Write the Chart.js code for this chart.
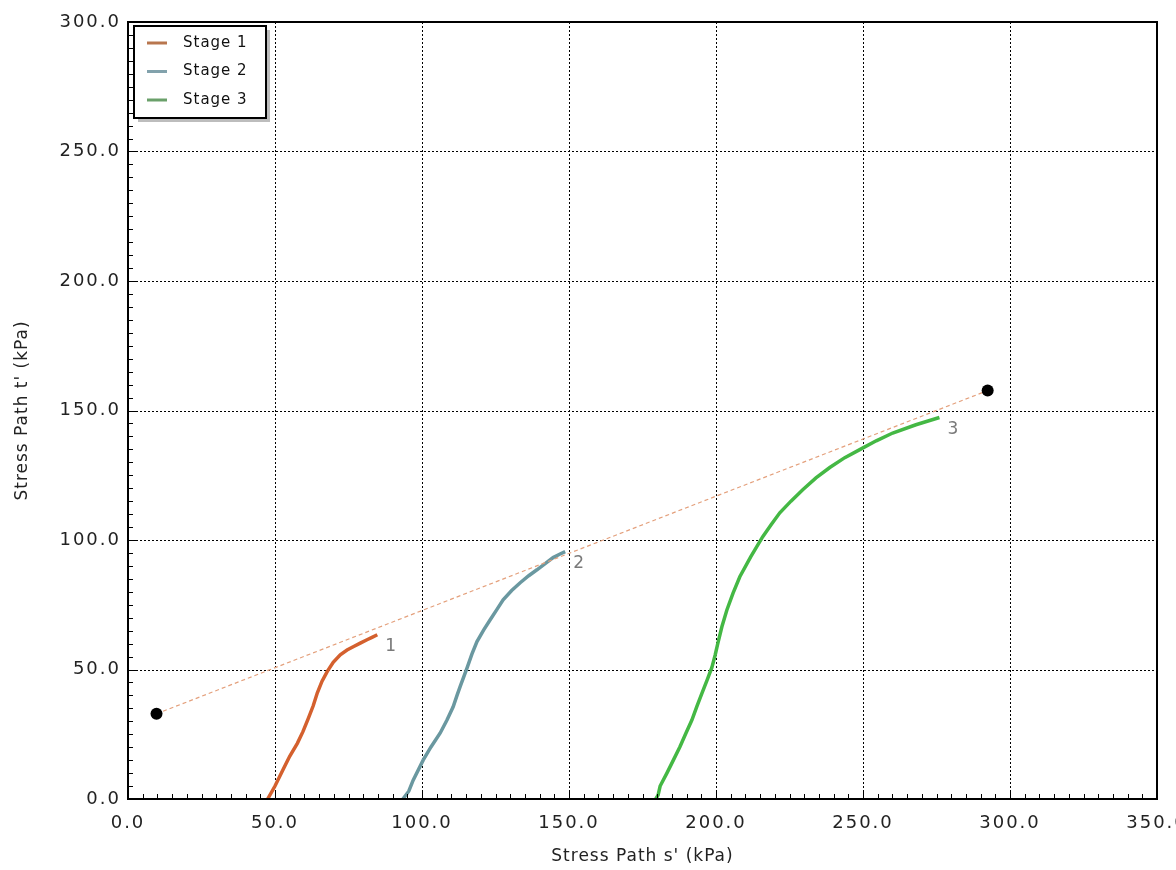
<!DOCTYPE html>
<html>
<head>
<meta charset="utf-8">
<script src="https://cdn.jsdelivr.net/npm/chart.js@4/dist/chart.umd.min.js"></script>
<style>
html,body{margin:0;padding:0;background:#fff;}
#wrap{width:1176px;height:870px;position:relative;}
</style>
</head>
<body>
<div id="wrap"><canvas id="c"></canvas></div>
<script>
// ---- data ----
const seriesNames = ['Stage 1', 'Stage 2', 'Stage 3'];
const stage1S = [47.5, 50.0, 52.8, 55.0, 57.6, 59.5, 61.3, 63.0, 64.4, 66.0, 67.8, 69.8, 72.2, 74.5, 76.6, 79.0, 81.3, 83.0, 84.8];
const stage1T = [0.0, 5.0, 11.5, 16.5, 21.5, 26.0, 31.0, 36.0, 41.0, 45.5, 49.3, 52.8, 55.7, 57.5, 58.8, 60.2, 61.5, 62.4, 63.4];
const stage2S = [93.5, 95.5, 97.0, 100.4, 103.0, 106.2, 108.5, 110.6, 112.0, 113.0, 115.3, 117.0, 118.7, 121.0, 123.2, 125.5, 127.6, 130.5, 133.4, 136.3, 139.1, 142.0, 144.6, 146.8, 148.7];
const stage2T = [0.0, 3.0, 7.3, 15.0, 20.0, 25.5, 30.5, 35.6, 40.3, 43.5, 50.5, 56.0, 60.8, 65.3, 69.2, 73.2, 76.9, 80.5, 83.5, 86.2, 88.5, 91.0, 93.2, 94.5, 95.5];
const stage3S = [179.5, 180.3, 181.0, 183.3, 185.5, 187.7, 189.8, 191.8, 193.5, 195.2, 197.0, 198.6, 199.7, 200.6, 202.0, 203.7, 205.8, 208.1, 211.8, 215.9, 218.8, 221.7, 225.5, 229.5, 234.0, 238.7, 243.8, 248.9, 254.5, 260.1, 268.0, 276.0];
const stage3T = [0.0, 1.5, 5.0, 10.0, 15.0, 20.1, 25.5, 30.5, 35.8, 40.8, 46.0, 50.8, 55.5, 60.0, 66.5, 73.0, 79.5, 85.8, 93.5, 101.3, 106.0, 110.5, 115.0, 119.4, 124.0, 128.0, 131.8, 134.9, 138.3, 141.3, 144.5, 147.3];
const failureS = [9.7, 292.4];
const failureT = [32.9, 157.7];
const stageLabels = ['1', '2', '3'];
const xTicks = [0, 50, 100, 150, 200, 250, 300, 350];
const yTicks = [0, 50, 100, 150, 200, 250, 300];
const xTitle = "Stress Path s' (kPa)";
const yTitle = "Stress Path t' (kPa)";

// ---- styles ----
const stageColors = ['#d4602e', '#6a98a0', '#44b844'];
const legendColors = ['#b8764e', '#82a2ac', '#6aa06a'];

function pts(xs, ys) { return xs.map((x, i) => ({ x: x, y: ys[i] })); }

const stageData = [pts(stage1S, stage1T), pts(stage2S, stage2T), pts(stage3S, stage3T)];

const datasets = [
  {
    label: 'Failure',
    data: pts(failureS, failureT),
    showLine: true,
    borderColor: '#e4a07c',
    borderWidth: 1.2,
    borderDash: [4, 3],
    pointRadius: 6,
    pointBackgroundColor: '#000',
    pointBorderColor: '#000',
    pointBorderWidth: 0,
    order: 0
  }
].concat(stageData.map((d, i) => ({
  label: seriesNames[i],
  data: d,
  showLine: true,
  borderColor: stageColors[i],
  borderWidth: 3.5,
  pointRadius: 0,
  tension: 0,
  order: 1
})));

const drawPlugin = {
  id: 'custom',
  beforeDatasetsDraw(chart) {
    const { ctx, chartArea: a, scales: { x, y } } = chart;
    ctx.save();
    ctx.strokeStyle = '#000';
    ctx.lineWidth = 1;
    ctx.setLineDash([2, 2]);
    xTicks.forEach(v => {
      if (v <= x.min || v >= x.max) return;
      const px = Math.round(x.getPixelForValue(v)) + 0.5;
      ctx.beginPath(); ctx.moveTo(px, a.top); ctx.lineTo(px, a.bottom); ctx.stroke();
    });
    yTicks.forEach(v => {
      if (v <= y.min || v >= y.max) return;
      const py = Math.round(y.getPixelForValue(v)) + 0.5;
      ctx.beginPath(); ctx.moveTo(a.left, py); ctx.lineTo(a.right, py); ctx.stroke();
    });
    ctx.restore();
  },
  afterDraw(chart) {
    const { ctx, chartArea: a, scales: { x, y } } = chart;
    ctx.save();
    // frame
    ctx.setLineDash([]);
    ctx.strokeStyle = '#000';
    ctx.lineWidth = 2;
    ctx.strokeRect(a.left, a.top, a.right - a.left, a.bottom - a.top);
    // minor/major ticks (inside)
    ctx.lineWidth = 1;
    for (let v = x.min; v <= x.max + 0.001; v += 5) {
      const px = Math.round(x.getPixelForValue(v)) + 0.5;
      const len = (v % 50 === 0) ? 9 : 5;
      ctx.beginPath(); ctx.moveTo(px, a.bottom); ctx.lineTo(px, a.bottom - len); ctx.stroke();
    }
    for (let v = y.min; v <= y.max + 0.001; v += 5) {
      const py = Math.round(y.getPixelForValue(v)) + 0.5;
      const len = (v % 50 === 0) ? 9 : 5;
      ctx.beginPath(); ctx.moveTo(a.left, py); ctx.lineTo(a.left + len, py); ctx.stroke();
    }
    // tick labels
    ctx.fillStyle = '#222';
    ctx.font = '18px "DejaVu Sans"';
    ctx.letterSpacing = '2px';
    ctx.textAlign = 'center';
    ctx.textBaseline = 'middle';
    xTicks.forEach(v => ctx.fillText(v.toFixed(1), x.getPixelForValue(v), a.bottom + 24));
    ctx.textAlign = 'right';
    yTicks.forEach(v => ctx.fillText(v.toFixed(1), a.left - 7, y.getPixelForValue(v)));
    // titles
    ctx.font = '17px "DejaVu Sans"';
    ctx.letterSpacing = '1px';
    ctx.textAlign = 'center';
    ctx.fillText(xTitle, (a.left + a.right) / 2, 857);
    ctx.translate(23, (a.top + a.bottom) / 2);
    ctx.rotate(-Math.PI / 2);
    ctx.fillText(yTitle, 0, 0);
    ctx.setTransform(1, 0, 0, 1, 0, 0);
    // stage end labels
    ctx.fillStyle = '#7a7a7a';
    ctx.font = '17px "DejaVu Sans"';
    ctx.letterSpacing = '0px';
    ctx.textAlign = 'left';
    stageData.forEach((d, i) => {
      const last = d[d.length - 1];
      ctx.fillText(stageLabels[i], x.getPixelForValue(last.x) + 8, y.getPixelForValue(last.y) + 12);
    });
    // legend
    const lx = a.left + 6, ly = a.top + 4, lw = 132, lh = 92;
    ctx.fillStyle = '#bdbdbd';
    ctx.fillRect(lx + 4, ly + 4, lw, lh);
    ctx.fillStyle = '#fff';
    ctx.fillRect(lx, ly, lw, lh);
    ctx.strokeStyle = '#000';
    ctx.lineWidth = 2;
    ctx.strokeRect(lx, ly, lw, lh);
    ctx.font = '15px "DejaVu Sans"';
    ctx.letterSpacing = '1px';
    ctx.textBaseline = 'middle';
    seriesNames.forEach((n, i) => {
      const yy = ly + 17 + i * 28.5;
      ctx.strokeStyle = legendColors[i];
      ctx.lineWidth = 3;
      ctx.beginPath(); ctx.moveTo(lx + 13, yy); ctx.lineTo(lx + 33, yy); ctx.stroke();
      ctx.fillStyle = '#111';
      ctx.fillText(n, lx + 49, yy);
    });
    ctx.restore();
  }
};

new Chart(document.getElementById('c'), {
  type: 'scatter',
  data: { datasets: datasets },
  options: {
    responsive: true,
    maintainAspectRatio: false,
    animation: false,
    layout: { padding: { left: 128, right: 19, top: 22, bottom: 71 } },
    plugins: { legend: { display: false }, tooltip: { enabled: false } },
    scales: {
      x: { type: 'linear', min: 0, max: 350, display: false },
      y: { type: 'linear', min: 0, max: 300, display: false }
    }
  },
  plugins: [drawPlugin]
});
</script>
</body>
</html>
